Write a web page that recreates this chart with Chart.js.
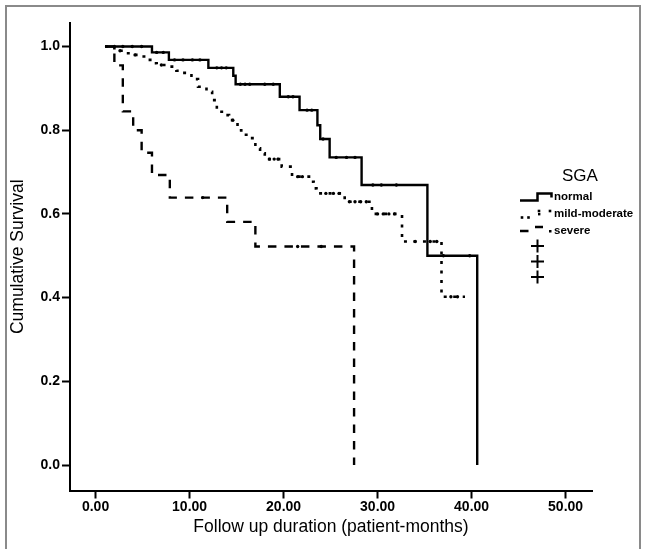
<!DOCTYPE html>
<html><head><meta charset="utf-8">
<script src="https://cdn.jsdelivr.net/npm/chart.js@4"></script>
<style>html,body{margin:0;padding:0;background:#fff}</style>
</head><body>
<canvas id="c" width="646" height="549"></canvas>
<script>
// ---- data ----
const groupNames = ["normal", "mild-moderate", "severe"];
const xTickValues = [0, 10, 20, 30, 40, 50];
const yTickValues = [0, 0.2, 0.4, 0.6, 0.8, 1.0];

// step curves: time of each event and survival after it
const normalTimes = [1.0, 6.0, 7.8, 12.0, 14.65, 14.9, 19.6, 21.7, 23.6, 23.9, 24.9, 28.3, 35.3, 40.6];
const normalSurv  = [1.0, 0.986, 0.968, 0.949, 0.930, 0.910, 0.880, 0.848, 0.812, 0.779, 0.735, 0.669, 0.500, 0.0];
const normalCensor = [2.0, 2.9, 3.9, 4.9, 6.5, 7.2, 8.4, 9.3, 10.3, 11.1, 12.9, 13.4, 13.9, 15.4, 15.9, 16.4, 18.0, 18.9, 20.5, 21.0, 22.5, 23.0, 24.2, 25.6, 26.7, 27.6, 29.5, 30.4, 32.0, 37.0, 39.8];

const mildTimes = [1.0, 2.0, 3.1, 3.8, 4.7, 5.4, 6.0, 6.5, 7.6, 8.6, 9.3, 10.2, 10.9, 11.8, 12.4, 12.9, 13.6, 14.2, 15.1, 15.5, 16.3, 17.0, 17.5, 18.0, 19.8, 20.9, 22.9, 23.2, 23.5, 26.5, 29.4, 32.6, 36.8, 39.3];
const mildSurv  = [1.0, 0.990, 0.984, 0.980, 0.976, 0.968, 0.960, 0.956, 0.952, 0.942, 0.937, 0.922, 0.904, 0.892, 0.872, 0.844, 0.836, 0.824, 0.800, 0.789, 0.781, 0.757, 0.745, 0.731, 0.713, 0.689, 0.677, 0.661, 0.649, 0.629, 0.600, 0.534, 0.402, 0.402];
const mildCensor = [2.6, 4.2, 7.0, 14.6, 18.5, 19.0, 19.4, 21.5, 22.0, 24.5, 25.3, 25.9, 27.0, 27.6, 28.2, 28.8, 30.0, 30.6, 31.2, 31.8, 34.0, 35.6, 36.3, 37.8, 38.5];

const severeTimes = [1.0, 2.0, 2.9, 4.0, 4.9, 6.0, 7.9, 14.0, 17.0, 27.5];
const severeSurv  = [1.0, 0.955, 0.845, 0.800, 0.746, 0.693, 0.639, 0.581, 0.522, 0.0];
const severeCensor = [11.4, 21.5, 24.0];

// ---- helpers ----
function pts(ts, ss) { return ts.map((t, i) => ({x: t, y: ss[i]})); }
function survAt(ts, ss, t) { let s = ss[0]; for (let i = 0; i < ts.length; i++) { if (ts[i] <= t) s = ss[i]; } return s; }
function censorPts(c, ts, ss) { return c.map(t => ({x: t, y: survAt(ts, ss, t)})); }

const FONT = '"Liberation Sans", Arial, sans-serif';
const lineBase = {showLine: true, stepped: 'before', borderColor: '#000', pointRadius: 0, fill: false, order: 2};
const censorBase = {showLine: false, pointStyle: 'circle', pointRadius: 1.7, pointBackgroundColor: '#000', pointBorderColor: '#000', pointBorderWidth: 0, order: 1};

const frameAndLegend = {
  id: 'frameAndLegend',
  beforeDraw(chart) {
    const ctx = chart.ctx;
    ctx.save();
    ctx.fillStyle = '#fff';
    ctx.fillRect(0, 0, chart.width, chart.height);
    ctx.restore();
  },
  afterDraw(chart) {
    const ctx = chart.ctx;
    ctx.save();
    // frame
    ctx.strokeStyle = '#8a8a8a';
    ctx.lineWidth = 2;
    ctx.strokeRect(6, 6, 634, 600);
    // legend
    ctx.fillStyle = '#000';
    ctx.strokeStyle = '#000';
    ctx.textBaseline = 'middle';
    ctx.textAlign = 'left';
    ctx.font = '17px ' + FONT;
    ctx.fillText('SGA', 562, 176);
    ctx.font = 'bold 11.5px ' + FONT;
    const ys = [197, 214, 230.5];
    groupNames.forEach((n, i) => ctx.fillText(n, 554, ys[i]));
    ctx.lineWidth = 2.5;
    // normal sample
    ctx.beginPath();
    ctx.moveTo(520, 200.5); ctx.lineTo(537.5, 200.5); ctx.lineTo(537.5, 193.5); ctx.lineTo(551.5, 193.5); ctx.lineTo(551.5, 197.5);
    ctx.stroke();
    // mild-moderate sample
    [[522, 217.5], [528.5, 217.5], [539, 211], [550, 211]].forEach(p => ctx.fillRect(p[0] - 1.3, p[1] - 1.3, 2.6, 2.6));
    ctx.fillRect(538, 213, 2.4, 2.4);
    // severe sample
    ctx.beginPath();
    ctx.moveTo(520, 231); ctx.lineTo(528.5, 231);
    ctx.moveTo(535, 227); ctx.lineTo(543, 227);
    ctx.stroke();
    ctx.fillRect(549, 230, 2.5, 2.5);
    // censor plus signs
    ctx.lineWidth = 2;
    [246, 261.5, 277].forEach(y => {
      ctx.beginPath();
      ctx.moveTo(531, y); ctx.lineTo(544, y);
      ctx.moveTo(537.5, y - 6.5); ctx.lineTo(537.5, y + 6.5);
      ctx.stroke();
    });
    ctx.restore();
  }
};

new Chart(document.getElementById('c'), {
  type: 'scatter',
  data: {
    datasets: [
      Object.assign({}, lineBase, {label: groupNames[0], data: pts(normalTimes, normalSurv), borderWidth: 2.4}),
      Object.assign({}, lineBase, {label: groupNames[1], data: pts(mildTimes, mildSurv), borderWidth: 2.6, borderDash: [3, 6.5]}),
      Object.assign({}, lineBase, {label: groupNames[2], data: pts(severeTimes, severeSurv), borderWidth: 2.4, borderDash: [8.5, 8]}),
      Object.assign({}, censorBase, {label: groupNames[0] + ' censored', data: censorPts(normalCensor, normalTimes, normalSurv)}),
      Object.assign({}, censorBase, {label: groupNames[1] + ' censored', data: censorPts(mildCensor, mildTimes, mildSurv)}),
      Object.assign({}, censorBase, {label: groupNames[2] + ' censored', data: censorPts(severeCensor, severeTimes, severeSurv)})
    ]
  },
  options: {
    responsive: false,
    animation: false,
    devicePixelRatio: 1,
    layout: {padding: {top: 23, right: 54, left: 0, bottom: 0}},
    plugins: {legend: {display: false}, tooltip: {enabled: false}},
    scales: {
      x: {
        type: 'linear', min: -2.72, max: 52.81,
        afterFit(s) { s.height = 58.5; },
        afterBuildTicks(s) { s.ticks = xTickValues.map(v => ({value: v})); },
        ticks: {color: '#000', font: {family: FONT, size: 14, weight: 'bold'}, padding: 0, maxRotation: 0, callback: v => Number(v).toFixed(2)},
        grid: {drawOnChartArea: false, drawTicks: true, tickLength: 8, tickColor: '#000', tickWidth: 2},
        border: {display: true, color: '#000', width: 2},
        title: {display: true, text: 'Follow up duration (patient-months)', color: '#000', font: {family: FONT, size: 17.5}, padding: {top: 0, bottom: 11}}
      },
      y: {
        type: 'linear', min: -0.0609, max: 1.0562,
        afterFit(s) { s.width = 70; },
        afterBuildTicks(s) { s.ticks = yTickValues.map(v => ({value: v})); },
        ticks: {color: '#000', font: {family: FONT, size: 14, weight: 'bold'}, padding: 2, callback: v => Number(v).toFixed(1)},
        grid: {drawOnChartArea: false, drawTicks: true, tickLength: 8, tickColor: '#000', tickWidth: 2},
        border: {display: true, color: '#000', width: 2},
        title: {display: true, text: 'Cumulative Survival', color: '#000', font: {family: FONT, size: 17.5}, padding: {top: 8, bottom: 0}}
      }
    }
  },
  plugins: [frameAndLegend]
});
</script>
</body></html>
